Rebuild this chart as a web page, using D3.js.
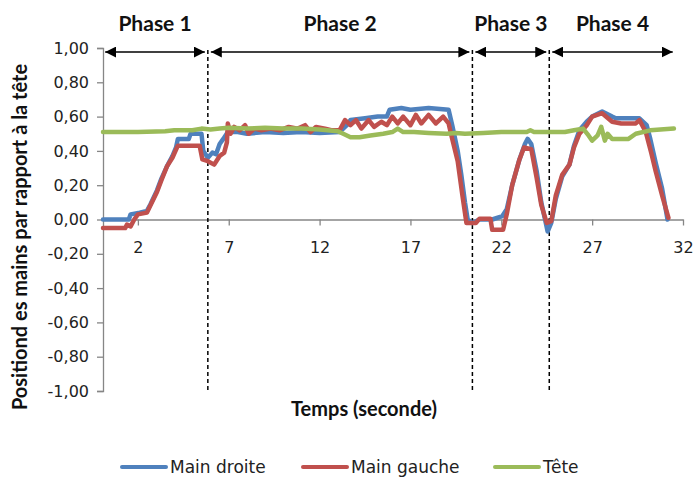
<!DOCTYPE html>
<html><head><meta charset="utf-8">
<script src="https://cdn.jsdelivr.net/npm/d3@7/dist/d3.min.js"></script>
<style>body{margin:0;background:#fff}</style></head>
<body><svg id="c" width="694" height="478"></svg>
<script>
// ---- data ----
const droiteT = [0.08,1.5,1.6,2.1,2.5,2.7,3.05,3.3,3.6,3.9,4.1,4.2,4.8,4.9,5.5,5.6,5.85,6.1,6.3,6.5,6.7,6.95,7.5,8.0,9.0,10.0,11.0,12.0,13.1,13.5,13.7,14.5,15.2,15.7,15.85,16.5,17.0,18.0,19.1,19.3,19.6,19.8,20.0,20.15,20.4,20.8,21.5,22.06,22.3,22.6,23.0,23.3,23.45,23.65,23.95,24.2,24.45,24.55,24.75,25.0,25.35,25.75,26.0,26.3,26.7,27.0,27.55,28.1,28.3,29.4,29.6,30.0,30.2,30.5,30.85,31.15];
const droiteV = [0.00,0.00,0.03,0.04,0.05,0.09,0.17,0.24,0.31,0.37,0.42,0.47,0.47,0.50,0.50,0.40,0.36,0.39,0.38,0.44,0.47,0.51,0.51,0.50,0.51,0.505,0.51,0.505,0.51,0.55,0.58,0.59,0.60,0.60,0.64,0.65,0.64,0.65,0.64,0.55,0.40,0.26,0.10,0.00,-0.02,0.00,0.00,0.02,0.06,0.20,0.35,0.44,0.47,0.44,0.28,0.10,-0.02,-0.07,-0.02,0.12,0.25,0.32,0.43,0.52,0.57,0.60,0.63,0.60,0.59,0.59,0.59,0.55,0.47,0.33,0.18,0.00];
const gaucheT = [0.08,1.3,1.4,1.6,1.8,2.0,2.5,2.7,3.05,3.3,3.6,3.9,4.15,4.2,5.4,5.55,5.85,6.2,6.5,6.75,6.9,6.95,7.1,7.3,7.6,7.9,8.1,8.4,8.8,9.3,9.8,10.3,10.8,11.2,11.5,11.8,12.3,12.7,13.1,13.4,13.7,14.0,14.3,14.7,15.0,15.4,15.7,16.0,16.3,16.6,17.0,17.3,17.6,18.0,18.4,18.8,19.1,19.3,19.6,19.86,20.08,20.6,20.8,21.4,21.5,22.1,22.3,22.6,23.0,23.25,23.65,23.95,24.2,24.5,24.75,25.0,25.35,25.75,26.0,26.3,26.7,27.0,27.55,28.1,28.6,29.4,29.6,29.95,30.25,30.5,30.85,31.2];
const gaucheV = [-0.05,-0.05,-0.03,-0.04,0.00,0.03,0.04,0.085,0.16,0.23,0.31,0.36,0.42,0.43,0.43,0.35,0.34,0.32,0.37,0.39,0.45,0.56,0.50,0.54,0.52,0.55,0.50,0.53,0.52,0.53,0.52,0.54,0.53,0.55,0.51,0.54,0.53,0.52,0.52,0.58,0.55,0.58,0.53,0.58,0.54,0.57,0.55,0.60,0.56,0.60,0.55,0.61,0.56,0.61,0.56,0.60,0.56,0.47,0.34,0.14,-0.02,-0.02,0.005,0.005,-0.06,-0.06,0.03,0.20,0.35,0.42,0.41,0.24,0.085,-0.02,-0.01,0.14,0.26,0.32,0.42,0.50,0.55,0.60,0.62,0.57,0.56,0.56,0.58,0.51,0.39,0.28,0.14,0.01];
const teteT = [0.08,2.0,3.5,4.0,5.0,5.5,6.0,6.5,7.0,8.0,9.0,10.0,11.0,12.0,13.0,13.3,13.7,14.2,14.8,15.5,16.0,16.3,16.6,17.2,18.0,19.0,19.5,20.0,21.0,22.0,23.4,23.6,23.8,24.5,25.5,26.0,26.5,26.8,27.0,27.3,27.5,27.7,27.85,28.1,29.0,29.4,30.2,31.5];
const teteV = [0.51,0.51,0.515,0.52,0.52,0.53,0.525,0.53,0.535,0.53,0.535,0.53,0.53,0.525,0.515,0.50,0.48,0.48,0.49,0.50,0.51,0.53,0.51,0.51,0.505,0.50,0.505,0.50,0.505,0.51,0.51,0.52,0.51,0.51,0.51,0.52,0.53,0.49,0.46,0.49,0.54,0.46,0.50,0.47,0.47,0.50,0.52,0.53];
const seriesNames = ["Main droite","Main gauche","Tête"];
const seriesColors = ["#4F81BD","#C0504D","#9BBB59"];
const xTicks = [2,7,12,17,22,27,32];
const yTicks = [-1,-0.8,-0.6,-0.4,-0.2,0,0.2,0.4,0.6,0.8,1];
const phaseNames = ["Phase 1","Phase 2","Phase 3","Phase 4"];
const phaseBounds = [0.2,5.85,20.41,24.64,31.6];
const yTitle = "Positiond es mains par rapport à la tête";
const xTitle = "Temps (seconde)";

// ---- chart ----
const svg = d3.select("#c");
const x = d3.scaleLinear().domain([0.08,32]).range([103,683]);
const y = d3.scaleLinear().domain([-1,1]).range([391,48]);
const fmt = v => d3.format(".2f")(v).replace(".",",").replace("−","-");
const tickFont = "DejaVu Sans, sans-serif";
const boldFont = "Lato, sans-serif";
const axisCol = "#868686";

// y axis
const ya = svg.append("g").attr("transform",`translate(${x.range()[0]},0)`)
  .call(d3.axisLeft(y).tickValues(yTicks).tickFormat(fmt).tickSize(6).tickPadding(8));
ya.select(".domain").attr("stroke",axisCol).attr("stroke-width",1.3);
ya.selectAll(".tick line").attr("stroke",axisCol).attr("stroke-width",1.3);
ya.selectAll(".tick text").attr("font-family",tickFont).attr("font-size",16).attr("fill","#222");

// x axis at y=0
const xa = svg.append("g").attr("transform",`translate(0,${y(0)})`)
  .call(d3.axisBottom(x).tickValues(xTicks).tickFormat(d3.format("d")).tickSize(6).tickSizeOuter(0).tickPadding(16));
xa.select(".domain").attr("stroke",axisCol).attr("stroke-width",1.3);
xa.selectAll(".tick line").attr("stroke",axisCol).attr("stroke-width",1.3);
xa.selectAll(".tick text").attr("font-family",tickFont).attr("font-size",16).attr("fill","#222");

// dashed phase dividers
svg.append("g").selectAll("line").data(phaseBounds.slice(1,4)).join("line")
  .attr("x1",d=>x(d)).attr("x2",d=>x(d)).attr("y1",y(1)+2).attr("y2",y(-1)+2)
  .attr("stroke","#000").attr("stroke-width",1.5).attr("stroke-dasharray","4,3");

// series lines
const line = d3.line().x(d=>x(d[0])).y(d=>y(d[1]));
const seriesData = [d3.zip(droiteT,droiteV), d3.zip(gaucheT,gaucheV), d3.zip(teteT,teteV)];
svg.append("g").selectAll("path").data(seriesData).join("path")
  .attr("d",line).attr("fill","none").attr("stroke",(d,i)=>seriesColors[i])
  .attr("stroke-width",4.5).attr("stroke-linejoin","round").attr("stroke-linecap","round");

// arrows
const defs = svg.append("defs");
defs.append("marker").attr("id","ah").attr("viewBox","0 0 10 10").attr("refX",10).attr("refY",5)
  .attr("markerWidth",11).attr("markerHeight",11).attr("markerUnits","userSpaceOnUse")
  .attr("orient","auto-start-reverse")
  .append("path").attr("d","M0,0L10,5L0,10Z").attr("fill","#000");
const phases = phaseNames.map((n,i)=>({name:n,a:phaseBounds[i],b:phaseBounds[i+1]}));
const ay = 52;
svg.append("g").selectAll("line").data(phases).join("line")
  .attr("x1",(d,i)=>x(d.a)+(i===0?0:3)).attr("x2",d=>x(d.b)-3)
  .attr("y1",ay).attr("y2",ay).attr("stroke","#000").attr("stroke-width",1.5)
  .attr("marker-start","url(#ah)").attr("marker-end","url(#ah)");
svg.append("g").selectAll("text").data(phases).join("text")
  .attr("x",(d,i)=>(x(d.a)+(i===0?0:3)+x(d.b)-3)/2).attr("y",31)
  .attr("text-anchor","middle").attr("font-family",boldFont).attr("font-weight","bold")
  .attr("font-size",21).attr("fill","#111").text(d=>d.name);

// axis titles
svg.append("text").attr("transform",`translate(27,237) rotate(-90)`)
  .attr("text-anchor","middle").attr("font-family",boldFont).attr("font-weight","bold")
  .attr("font-size",20).attr("fill","#111").text(yTitle);
svg.append("text").attr("x",364).attr("y",416).attr("text-anchor","middle")
  .attr("font-family",boldFont).attr("font-weight","bold").attr("font-size",20).attr("fill","#111").text(xTitle);

// legend
const legX = [122,303,495];
const lg = svg.append("g").selectAll("g").data(seriesNames).join("g")
  .attr("transform",(d,i)=>`translate(${legX[i]},467)`);
lg.append("line").attr("x1",0).attr("x2",44).attr("y1",0).attr("y2",0)
  .attr("stroke",(d,i)=>seriesColors[i]).attr("stroke-width",4).attr("stroke-linecap","round");
lg.append("text").attr("x",48).attr("y",6).attr("font-family",tickFont).attr("font-size",17)
  .attr("fill","#222").text(d=>d);
</script></body></html>
